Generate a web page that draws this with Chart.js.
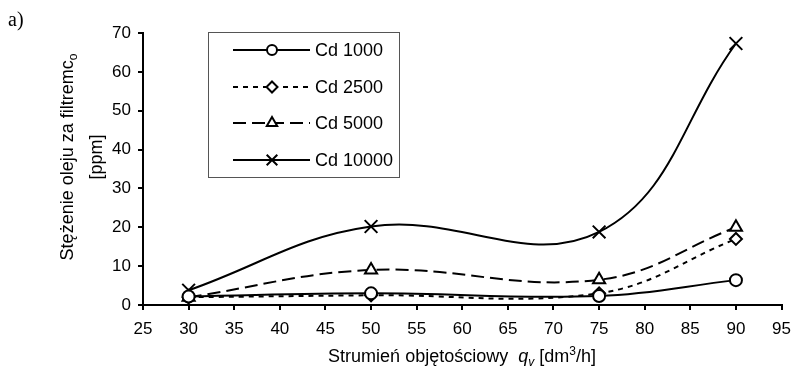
<!DOCTYPE html>
<html>
<head>
<meta charset="utf-8">
<script src="https://cdn.jsdelivr.net/npm/chart.js@4/dist/chart.umd.min.js"></script>
<style>
  html, body { margin: 0; padding: 0; background: #fff; }
</style>
</head>
<body>
<canvas id="oilChart" width="800" height="371"></canvas>
<script>
// data
const flowRates = [30, 50, 75, 90];
const cd1000 = [2.2, 3.0, 2.3, 6.4];
const cd2500 = [2.0, 2.5, 3.0, 17.0];
const cd5000 = [2.0, 9.0, 6.5, 20.0];
const cd10000 = [3.8, 20.2, 18.8, 67.3];
const seriesLabels = ['Cd 1000', 'Cd 2500', 'Cd 5000', 'Cd 10000'];
const xTickValues = [25, 30, 35, 40, 45, 50, 55, 60, 65, 70, 75, 80, 85, 90, 95];
const yTickValues = [0, 10, 20, 30, 40, 50, 60, 70];

const FONT = '"Liberation Sans", Arial, sans-serif';
const toPoints = (ys) => flowRates.map((x, i) => ({ x: x, y: ys[i] }));

const styles = [
    { pointStyle: 'circle', radius: 6, legendRadius: 5, dash: [] },
    { pointStyle: 'rectRot', radius: 6, legendRadius: 5.5, dash: [5, 5] },
    { pointStyle: 'triangle', radius: 7, legendRadius: 6, dash: [13, 6] },
    { pointStyle: 'crossRot', radius: 9, legendRadius: 7.5, dash: [] }
];

const makeSet = (label, ys, s) => ({
    label: label,
    data: toPoints(ys),
    showLine: true,
    borderColor: '#000',
    borderWidth: 2,
    borderDash: s.dash,
    tension: 0.4,
    pointStyle: s.pointStyle,
    pointRadius: s.radius,
    pointBorderWidth: 2,
    pointBorderColor: '#000',
    pointBackgroundColor: '#fff',
    legendRadius: s.legendRadius
});

// own marker drawing for the boxed legend
const drawMarker = (ctx, style, r, x, y) => {
    ctx.save();
    ctx.setLineDash([]);
    ctx.strokeStyle = '#000';
    ctx.fillStyle = '#fff';
    ctx.lineWidth = 2;
    ctx.beginPath();
    if (style === 'circle') {
        ctx.arc(x, y, r, 0, Math.PI * 2);
        ctx.fill(); ctx.stroke();
    } else if (style === 'rectRot') {
        ctx.moveTo(x, y - r); ctx.lineTo(x + r, y); ctx.lineTo(x, y + r); ctx.lineTo(x - r, y);
        ctx.closePath(); ctx.fill(); ctx.stroke();
    } else if (style === 'triangle') {
        const w = r * Math.sin(Math.PI / 3);
        ctx.moveTo(x, y - r); ctx.lineTo(x + w, y + r / 2); ctx.lineTo(x - w, y + r / 2);
        ctx.closePath(); ctx.fill(); ctx.stroke();
    } else {
        const d = r * Math.SQRT1_2;
        ctx.moveTo(x - d, y - d); ctx.lineTo(x + d, y + d);
        ctx.moveTo(x + d, y - d); ctx.lineTo(x - d, y + d);
        ctx.stroke();
    }
    ctx.restore();
};

const extrasPlugin = {
    id: 'extras',
    afterDraw(chart) {
        const ctx = chart.ctx;
        ctx.save();
        ctx.fillStyle = '#000';

        // panel letter
        ctx.font = '20px "Liberation Serif", "Times New Roman", serif';
        ctx.textBaseline = 'alphabetic';
        ctx.textAlign = 'left';
        ctx.fillText('a)', 8, 26);

        // y axis title (two lines, subscript o)
        ctx.font = '18px ' + FONT;
        const t1 = 'Stężenie oleju za filtremc';
        const w1 = ctx.measureText(t1).width;
        ctx.font = '12px ' + FONT;
        const ws = ctx.measureText('o').width;
        ctx.save();
        ctx.translate(73, 157);
        ctx.rotate(-Math.PI / 2);
        ctx.font = '18px ' + FONT;
        const start = -(w1 + ws) / 2;
        ctx.fillText(t1, start, 0);
        ctx.font = '12px ' + FONT;
        ctx.fillText('o', start + w1, 4);
        ctx.font = '18px ' + FONT;
        ctx.textAlign = 'center';
        ctx.fillText('[ppm]', 0, 29);
        ctx.restore();

        // x axis title with italic q_v and superscript 3
        const parts = [
            { t: 'Strumień objętościowy  ', f: '18px ' + FONT, dy: 0 },
            { t: 'q', f: 'italic 18px ' + FONT, dy: 0 },
            { t: 'v', f: 'italic 12px ' + FONT, dy: 4 },
            { t: ' [dm', f: '18px ' + FONT, dy: 0 },
            { t: '3', f: '12px ' + FONT, dy: -7 },
            { t: '/h]', f: '18px ' + FONT, dy: 0 }
        ];
        let total = 0;
        parts.forEach(p => { ctx.font = p.f; p.w = ctx.measureText(p.t).width; total += p.w; });
        let px = 462 - total / 2;
        ctx.textAlign = 'left';
        parts.forEach(p => { ctx.font = p.f; ctx.fillText(p.t, px, 362 + p.dy); px += p.w; });

        // legend box
        ctx.lineWidth = 1;
        ctx.strokeStyle = '#555';
        ctx.strokeRect(208.5, 32.5, 191, 145);
        const rowsY = [50, 87, 123, 160];
        chart.data.datasets.forEach((ds, i) => {
            const y = rowsY[i];
            ctx.save();
            ctx.strokeStyle = '#000';
            ctx.lineWidth = 2;
            ctx.setLineDash(ds.borderDash);
            ctx.beginPath();
            ctx.moveTo(233, y);
            ctx.lineTo(310, y);
            ctx.stroke();
            ctx.restore();
            drawMarker(ctx, ds.pointStyle, ds.legendRadius, 272, y);
            ctx.font = '18px ' + FONT;
            ctx.textBaseline = 'middle';
            ctx.fillText(ds.label, 315, y + 1);
        });
        ctx.restore();
    }
};

const axisGrid = {
    display: true,
    drawOnChartArea: false,
    drawTicks: true,
    tickLength: 5,
    color: '#000',
    lineWidth: 2
};

new Chart(document.getElementById('oilChart'), {
    type: 'scatter',
    data: {
        datasets: [
            makeSet(seriesLabels[0], cd1000, styles[0]),
            makeSet(seriesLabels[1], cd2500, styles[1]),
            makeSet(seriesLabels[2], cd5000, styles[2]),
            makeSet(seriesLabels[3], cd10000, styles[3])
        ]
    },
    options: {
        responsive: false,
        animation: false,
        layout: { padding: { top: 33, right: 13, left: 0, bottom: 0 } },
        plugins: {
            legend: { display: false },
            tooltip: { enabled: false }
        },
        scales: {
            x: {
                type: 'linear',
                min: 25,
                max: 95,
                afterBuildTicks: (scale) => { scale.ticks = xTickValues.map(v => ({ value: v })); },
                afterFit: (scale) => { scale.height = 66; },
                grid: axisGrid,
                border: { color: '#000', width: 2 },
                ticks: { color: '#000', padding: 9, maxRotation: 0, font: { family: FONT, size: 17 } }
            },
            y: {
                min: 0,
                max: 70,
                afterBuildTicks: (scale) => { scale.ticks = yTickValues.map(v => ({ value: v })); },
                afterFit: (scale) => { scale.width = 143; },
                grid: axisGrid,
                border: { color: '#000', width: 2 },
                ticks: { color: '#000', padding: 7, font: { family: FONT, size: 17 } }
            }
        }
    },
    plugins: [extrasPlugin]
});
</script>
</body>
</html>
